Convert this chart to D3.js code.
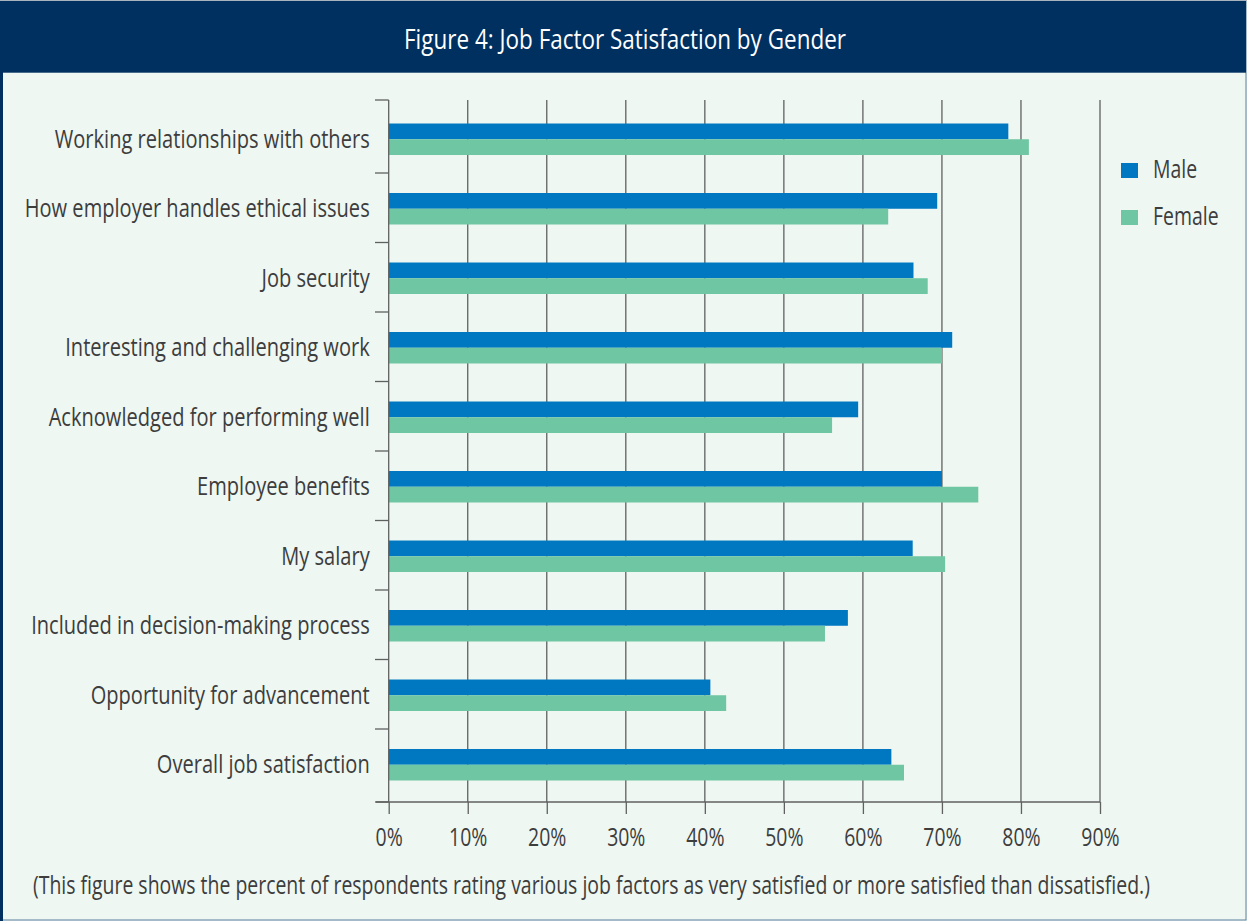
<!DOCTYPE html>
<html>
<head>
<meta charset="utf-8">
<script src="https://cdn.jsdelivr.net/npm/d3@7"></script>
<style>
html,body{margin:0;padding:0;background:#fff;}
svg{display:block;}
text{font-family:"Open Sans","Noto Sans",sans-serif;}
</style>
</head>
<body>
<svg id="chart" width="1247" height="921"></svg>
<script>
const categories = [
  "Working relationships with others",
  "How employer handles ethical issues",
  "Job security",
  "Interesting and challenging work",
  "Acknowledged for performing well",
  "Employee benefits",
  "My salary",
  "Included in decision-making process",
  "Opportunity for advancement",
  "Overall job satisfaction"
];
const seriesNames = ["Male", "Female"];
const maleValues   = [78.4, 69.4, 66.4, 71.3, 59.4, 70.0, 66.3, 58.1, 40.7, 63.6];
const femaleValues = [81.0, 63.2, 68.2, 70.0, 56.1, 74.6, 70.4, 55.2, 42.7, 65.2];
const tickValues = [0, 10, 20, 30, 40, 50, 60, 70, 80, 90];
const title = "Figure 4: Job Factor Satisfaction by Gender";
const footnote = "(This figure shows the percent of respondents rating various job factors as very satisfied or more satisfied than dissatisfied.)";

const colors = {Male: "#0077c1", Female: "#6fc6a2"};
const textColor = "#3d3d3d";
const gridColor = "#5f6160";
const FS = 25;

const svg = d3.select("#chart");
const W = 1247, H = 921;

// background + frame
svg.append("rect").attr("x",0).attr("y",0).attr("width",W).attr("height",H).attr("fill","#eef7f2");
svg.append("rect").attr("x",0.5).attr("y",0.5).attr("width",W-1.5).attr("height",H-1.5)
  .attr("fill","none").attr("stroke","#5b7e9e").attr("stroke-width",1);
svg.append("rect").attr("x",0).attr("y",0).attr("width",3).attr("height",H).attr("fill","#003060");
svg.append("rect").attr("x",0).attr("y",1).attr("width",W-1).attr("height",71.7).attr("fill","#003060");
svg.append("line").attr("x1",0).attr("x2",W).attr("y1",0.5).attr("y2",0.5).attr("stroke","#a9b3bd");

// footnote (measured first to derive horizontal condensing factor)
const foot = svg.append("text").attr("x",33).attr("y",894).attr("fill",textColor).attr("font-size",FS).text(footnote);
const k = 1118 / foot.node().getComputedTextLength();

function squeeze(sel, factor){
  const f = factor || k;
  sel.each(function(){
    const xv = +this.getAttribute("x") || 0;
    this.setAttribute("x", 0);
    this.setAttribute("transform", `translate(${xv},0) scale(${f},1)`);
  });
}
squeeze(foot);

const titleText = svg.append("text").attr("x",625).attr("y",49).attr("text-anchor","middle")
  .attr("fill","#ffffff").attr("font-size",27.5).text(title);
squeeze(titleText, 442 / titleText.node().getComputedTextLength());

const x = d3.scaleLinear().domain([0,90]).range([388.7,1100]);
const y = d3.scaleBand().domain(categories).range([104.5,799.5]).paddingInner(0.547).paddingOuter(0.2735);
const ySub = d3.scaleBand().domain(seriesNames).range([0,y.bandwidth()]);

// gridlines
svg.append("g").selectAll("line").data(tickValues.slice(1)).join("line")
  .attr("x1",d=>x(d)).attr("x2",d=>x(d)).attr("y1",100).attr("y2",802)
  .attr("stroke",gridColor).attr("stroke-width",1.3);

// bars
const rows = categories.map((c,i)=>({cat:c, vals:[{s:"Male",v:maleValues[i]},{s:"Female",v:femaleValues[i]}]}));
const g = svg.append("g");
g.selectAll("g").data(rows).join("g")
  .attr("transform",d=>`translate(0,${y(d.cat)})`)
  .selectAll("rect").data(d=>d.vals).join("rect")
  .attr("x",x(0)).attr("y",d=>ySub(d.s)).attr("height",ySub.bandwidth())
  .attr("width",d=>x(d.v)-x(0)).attr("fill",d=>colors[d.s]);

// bottom axis
const xAxis = d3.axisBottom(x).tickValues(tickValues).tickFormat(d=>d+"%").tickSize(12).tickPadding(14);
const gx = svg.append("g").attr("transform","translate(0,802)").call(xAxis);
gx.attr("font-family",null);
gx.select(".domain").remove();
gx.selectAll(".tick line").attr("stroke",gridColor).attr("stroke-width",1.3);
gx.selectAll(".tick text").attr("fill",textColor).attr("font-size",FS).attr("dy","0.71em");
squeeze(gx.selectAll(".tick text"));
svg.append("line").attr("x1",376).attr("x2",1100).attr("y1",802).attr("y2",802)
  .attr("stroke",gridColor).attr("stroke-width",1.3);

// left axis
const yAxis = d3.axisLeft(y).tickSize(0).tickPadding(19);
const gy = svg.append("g").attr("transform",`translate(${x(0)},0)`).call(yAxis);
gy.attr("font-family",null);
gy.select(".domain").remove();
gy.selectAll(".tick text").attr("fill",textColor).attr("font-size",25.8);
squeeze(gy.selectAll(".tick text"));
svg.append("line").attr("x1",x(0)).attr("x2",x(0)).attr("y1",100).attr("y2",802)
  .attr("stroke",gridColor).attr("stroke-width",1.3);
const bounds = [100].concat(categories.slice(1).map(c => y(c) - y.step()*y.paddingInner()/2 - 1)).concat([802]);
svg.append("g").selectAll("line").data(bounds).join("line")
  .attr("x1",375).attr("x2",x(0)).attr("y1",d=>d).attr("y2",d=>d)
  .attr("stroke",gridColor).attr("stroke-width",1.3);

// legend
const lg = svg.append("g").attr("transform","translate(1121,163)");
seriesNames.forEach((s,i)=>{
  lg.append("rect").attr("x",0).attr("y",i*47).attr("width",17).attr("height",15).attr("fill",colors[s]);
  const t = lg.append("text").attr("x",32).attr("y",i*47+15).attr("fill",textColor).attr("font-size",FS).text(s);
  squeeze(t);
});
</script>
</body>
</html>
